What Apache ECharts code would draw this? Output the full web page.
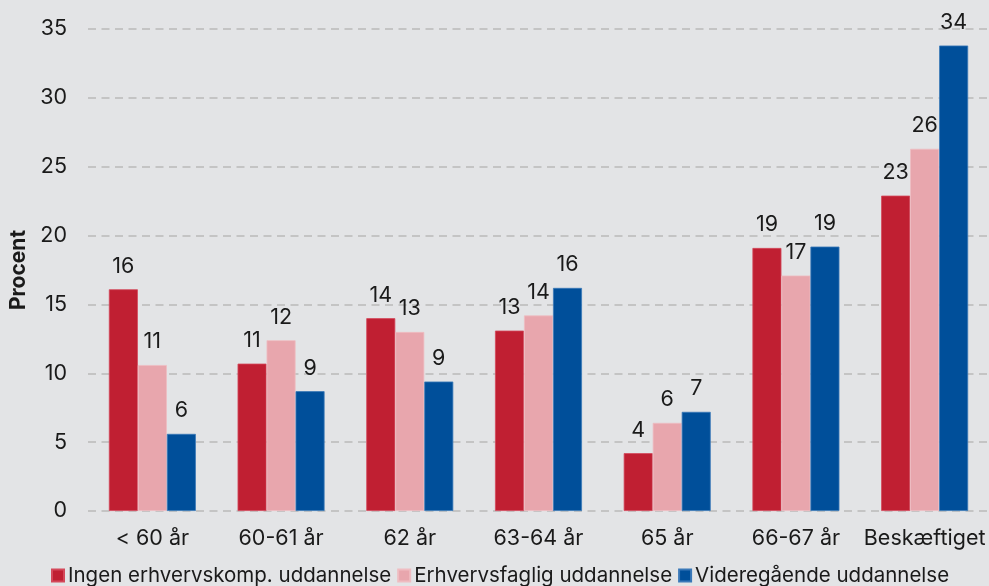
<!DOCTYPE html>
<html>
<head>
<meta charset="utf-8">
<script src="https://cdn.jsdelivr.net/npm/echarts@6/dist/echarts.min.js"></script>
<style>
html,body{margin:0;padding:0;background:#e3e4e6;}
#chart{width:989px;height:586px;}
</style>
</head>
<body>
<div id="chart"></div>
<script>
const categories = ['< 60 år', '60-61 år', '62 år', '63-64 år', '65 år', '66-67 år', 'Beskæftiget'];
const seriesNames = ['Ingen erhvervskomp. uddannelse', 'Erhvervsfaglig uddannelse', 'Videregående uddannelse'];
const ingen = [16.1, 10.7, 14.0, 13.1, 4.2, 19.1, 22.9];
const erhvervsfaglig = [10.6, 12.4, 13.0, 14.2, 6.4, 17.1, 26.3];
const videregaaende = [5.6, 8.7, 9.4, 16.2, 7.2, 19.2, 33.8];
const yTicks = [0, 5, 10, 15, 20, 25, 30, 35];

const colors = ['#c01f32', '#e8a6ad', '#004f9a'];
const borders = ['#d4485a', '#efbcc1', '#3a78b8'];
const font = 'Inter, "Noto Sans", sans-serif';
const txt = '#1a1a1a';

const dataSets = [ingen, erhvervsfaglig, videregaaende];
const chart = echarts.init(document.getElementById('chart'), null, {renderer: 'canvas'});
chart.setOption({
  backgroundColor: '#e3e4e6',
  animation: false,
  textStyle: {fontFamily: font},
  grid: {left: 87, right: 0, top: 29, bottom: 75, containLabel: false},
  legend: {
    bottom: -5,
    left: 46,
    itemWidth: 12,
    itemHeight: 12,
    itemGap: 6,
    icon: 'rect',
    textStyle: {fontFamily: font, fontSize: 20.5, color: txt, padding: [0, 0, 0, -1]},
    data: seriesNames
  },
  xAxis: {
    type: 'category',
    data: categories,
    axisLine: {show: false},
    axisTick: {show: false},
    axisLabel: {fontFamily: font, fontSize: 21.5, color: txt, margin: 17, interval: 0}
  },
  yAxis: {
    type: 'value',
    min: yTicks[0],
    max: yTicks[yTicks.length - 1],
    interval: 5,
    name: 'Procent',
    nameLocation: 'middle',
    nameGap: 59,
    nameTextStyle: {fontFamily: font, fontSize: 21, fontWeight: 'bold', color: txt},
    axisLine: {show: false},
    axisTick: {show: false},
    axisLabel: {fontFamily: font, fontSize: 21.5, color: txt, margin: 21},
    splitLine: {lineStyle: {color: '#c4c4c4', width: 2, type: [8, 5.5]}}
  },
  series: dataSets.map((d, i) => ({
    name: seriesNames[i],
    type: 'bar',
    data: d,
    barWidth: 29,
    barGap: '0%',
    itemStyle: {color: colors[i], borderColor: borders[i], borderWidth: 0.8},
    label: {
      show: true,
      position: 'top',
      distance: 12,
      fontFamily: font,
      fontSize: 21.5,
      color: txt,
      formatter: p => Math.round(p.value)
    }
  }))
});
</script>
</body>
</html>
